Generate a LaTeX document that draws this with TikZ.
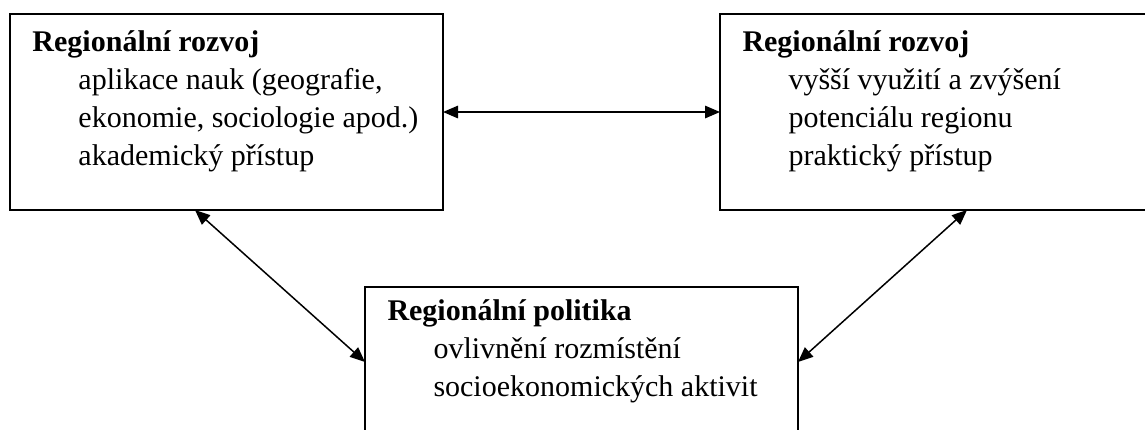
\documentclass[tikz,border=0pt]{standalone}
\usepackage{fontspec}
\setmainfont{Liberation Serif}
\usetikzlibrary{arrows.meta,positioning,calc}

\begin{document}
\begin{tikzpicture}[
  x=0.4pt, y=-0.4pt,
  every node/.style={font=\fontsize{12}{15.2}\selectfont},
  box/.style={draw, line width=0.8pt, rectangle, anchor=north west, inner sep=0pt, outer sep=0pt},
  boxtext/.style={anchor=north west, align=left, inner sep=0pt},
  link/.style={{Triangle[length=6pt,width=5pt]}-{Triangle[length=6pt,width=5pt]}, line width=0.6pt},
]
\useasboundingbox (0,0) rectangle (1145,429);
\clip (0,0) rectangle (1145,429);

% --- Boxes -----------------------------------------------------
\node[box, minimum width=173.2pt, minimum height=78.4pt] (akad) at (10,14) {};
\node[box, minimum width=173.2pt, minimum height=78.4pt] (prakt) at (720,14) {};
\node[box, minimum width=173.2pt, minimum height=61.2pt] (polit) at (365,287) {};

% --- Texts -----------------------------------------------------
\newcommand{\ind}{\hspace*{18.4pt}}
\node[boxtext] (akadtxt) at ($(akad.north west)+(22,16)$)
  {\textbf{Regionální rozvoj}\\
   \ind aplikace nauk (geografie,\\
   \ind ekonomie, sociologie apod.)\\
   \ind akademický přístup};
\node[boxtext] (prakttxt) at ($(prakt.north west)+(22,16)$)
  {\textbf{Regionální rozvoj}\\
   \ind vyšší využití a zvýšení\\
   \ind potenciálu regionu\\
   \ind praktický přístup};
\node[boxtext] (polittxt) at ($(polit.north west)+(22,12)$)
  {\textbf{Regionální politika}\\
   \ind ovlivnění rozmístění\\
   \ind socioekonomických aktivit};

% --- Arrow ends on the box edges --------------------------------
\coordinate (akadS) at ($(akad.south west)+(185,0)$);
\coordinate (praktS) at ($(prakt.south west)+(247,0)$);
\coordinate (politW) at ($(polit.north west)+(0,75)$);
\coordinate (politE) at ($(polit.north east)+(0,75)$);

% --- Links -----------------------------------------------------
\draw[link] (akad.east) -- (prakt.west);
\draw[link] (akadS) -- (politW);
\draw[link] (praktS) -- (politE);

\end{tikzpicture}
\end{document}
